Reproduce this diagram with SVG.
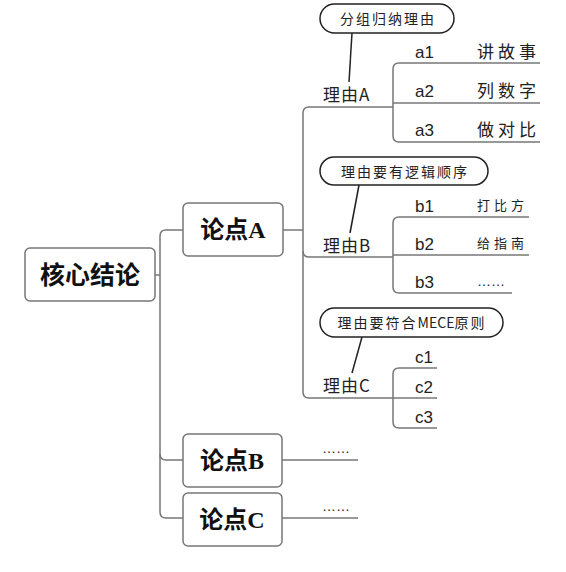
<svg xmlns="http://www.w3.org/2000/svg" width="566" height="572" viewBox="0 0 566 572">
<style>
.node rect{fill:#fff;stroke:#777;stroke-width:1.5}
.nt{font-family:"Liberation Serif","Noto Sans CJK SC",serif;font-weight:bold;fill:#111;text-anchor:middle}
.conn path{fill:none;stroke:#777;stroke-width:1.5}
.call rect{fill:#fff;stroke:#222;stroke-width:1.5}
.ct{font-family:"Noto Sans CJK SC",sans-serif;font-size:14px;letter-spacing:2px;fill:#222;text-anchor:middle}
.rt{font-family:"Noto Sans CJK SC",sans-serif;font-size:17px;letter-spacing:1px;fill:#222}
.lt{font-family:"Liberation Sans",sans-serif;font-size:17px;fill:#222}
.leaf{font-family:"Noto Sans CJK SC",sans-serif;font-size:17px;letter-spacing:4px;fill:#222}
.leafs{font-family:"Noto Sans CJK SC",sans-serif;font-size:13px;letter-spacing:4px;fill:#222}
.dots{font-family:"Liberation Sans",sans-serif;font-size:14px;fill:#222}
</style>
<rect width="566" height="572" fill="#fff"/>
<g class="conn" id="connectors">
<path d="M155 275H160"/>
<path d="M183 230H166Q160 230 160 236V512Q160 518 166 518H183"/>
<path d="M160 454Q160 460 166 460H183"/>
<path d="M283 230H303"/>
<path d="M393 107H309Q303 107 303 113V392Q303 398 309 398H393"/>
<path d="M303 251Q303 257 309 257H393"/>
<path d="M540 63H399Q393 63 393 69V136Q393 142 399 142H540"/>
<path d="M393 103H540"/>
<path d="M529 217H399Q393 217 393 223V287Q393 293 399 293H512"/>
<path d="M393 255H529"/>
<path d="M437 368H399Q393 368 393 374V422Q393 428 399 428H437"/>
<path d="M393 398H437"/>
<path d="M282 460H358"/>
<path d="M282 518H358"/>
<path d="M352 33L349 82" style="stroke:#222"/>
<path d="M359 185L350 233" style="stroke:#222"/>
<path d="M362 337L352 373" style="stroke:#222"/>
</g>
<g class="node" id="core"><rect x="25" y="248" width="130" height="53" rx="5"/><text class="nt" x="90" y="284" font-size="25">核心结论</text></g>
<g class="node" id="pointA"><rect x="183" y="203" width="100" height="53" rx="5"/><text class="nt" x="233" y="238" font-size="24">论点A</text></g>
<g class="node" id="pointB"><rect x="183" y="434" width="99" height="53" rx="5"/><text class="nt" x="232" y="469" font-size="24">论点B</text></g>
<g class="node" id="pointC"><rect x="183" y="493" width="99" height="53" rx="5"/><text class="nt" x="232" y="528" font-size="24">论点C</text></g>
<g class="call" id="noteA"><rect x="320" y="4" width="134" height="29" rx="14.5"/><text class="ct" x="388" y="24">分组归纳理由</text></g>
<g class="call" id="noteB"><rect x="320" y="157" width="168" height="28" rx="14"/><text class="ct" x="405" y="177">理由要有逻辑顺序</text></g>
<g class="call" id="noteC"><rect x="320" y="308" width="183" height="29" rx="14.5"/><text class="ct" x="412" y="328">理由要符合<tspan letter-spacing="0">MECE</tspan>原则</text></g>
<g id="reasonA"><text class="rt" x="323" y="101">理由A</text></g>
<g id="reasonB"><text class="rt" x="323" y="252">理由B</text></g>
<g id="reasonC"><text class="rt" x="323" y="392">理由C</text></g>
<g id="a1"><text class="lt" x="415" y="58">a1</text><text class="leaf" x="477" y="58">讲故事</text></g>
<g id="a2"><text class="lt" x="415" y="97">a2</text><text class="leaf" x="477" y="97">列数字</text></g>
<g id="a3"><text class="lt" x="415" y="136">a3</text><text class="leaf" x="477" y="136">做对比</text></g>
<g id="b1"><text class="lt" x="415" y="212">b1</text><text class="leafs" x="477" y="210">打比方</text></g>
<g id="b2"><text class="lt" x="415" y="250">b2</text><text class="leafs" x="477" y="248">给指南</text></g>
<g id="b3"><text class="lt" x="415" y="288">b3</text><text class="dots" x="477" y="286">……</text></g>
<g id="c1"><text class="lt" x="415" y="363">c1</text></g>
<g id="c2"><text class="lt" x="415" y="393">c2</text></g>
<g id="c3"><text class="lt" x="415" y="423">c3</text></g>
<g id="moreB"><text class="dots" x="322" y="453">……</text></g>
<g id="moreC"><text class="dots" x="322" y="511">……</text></g>
</svg>
